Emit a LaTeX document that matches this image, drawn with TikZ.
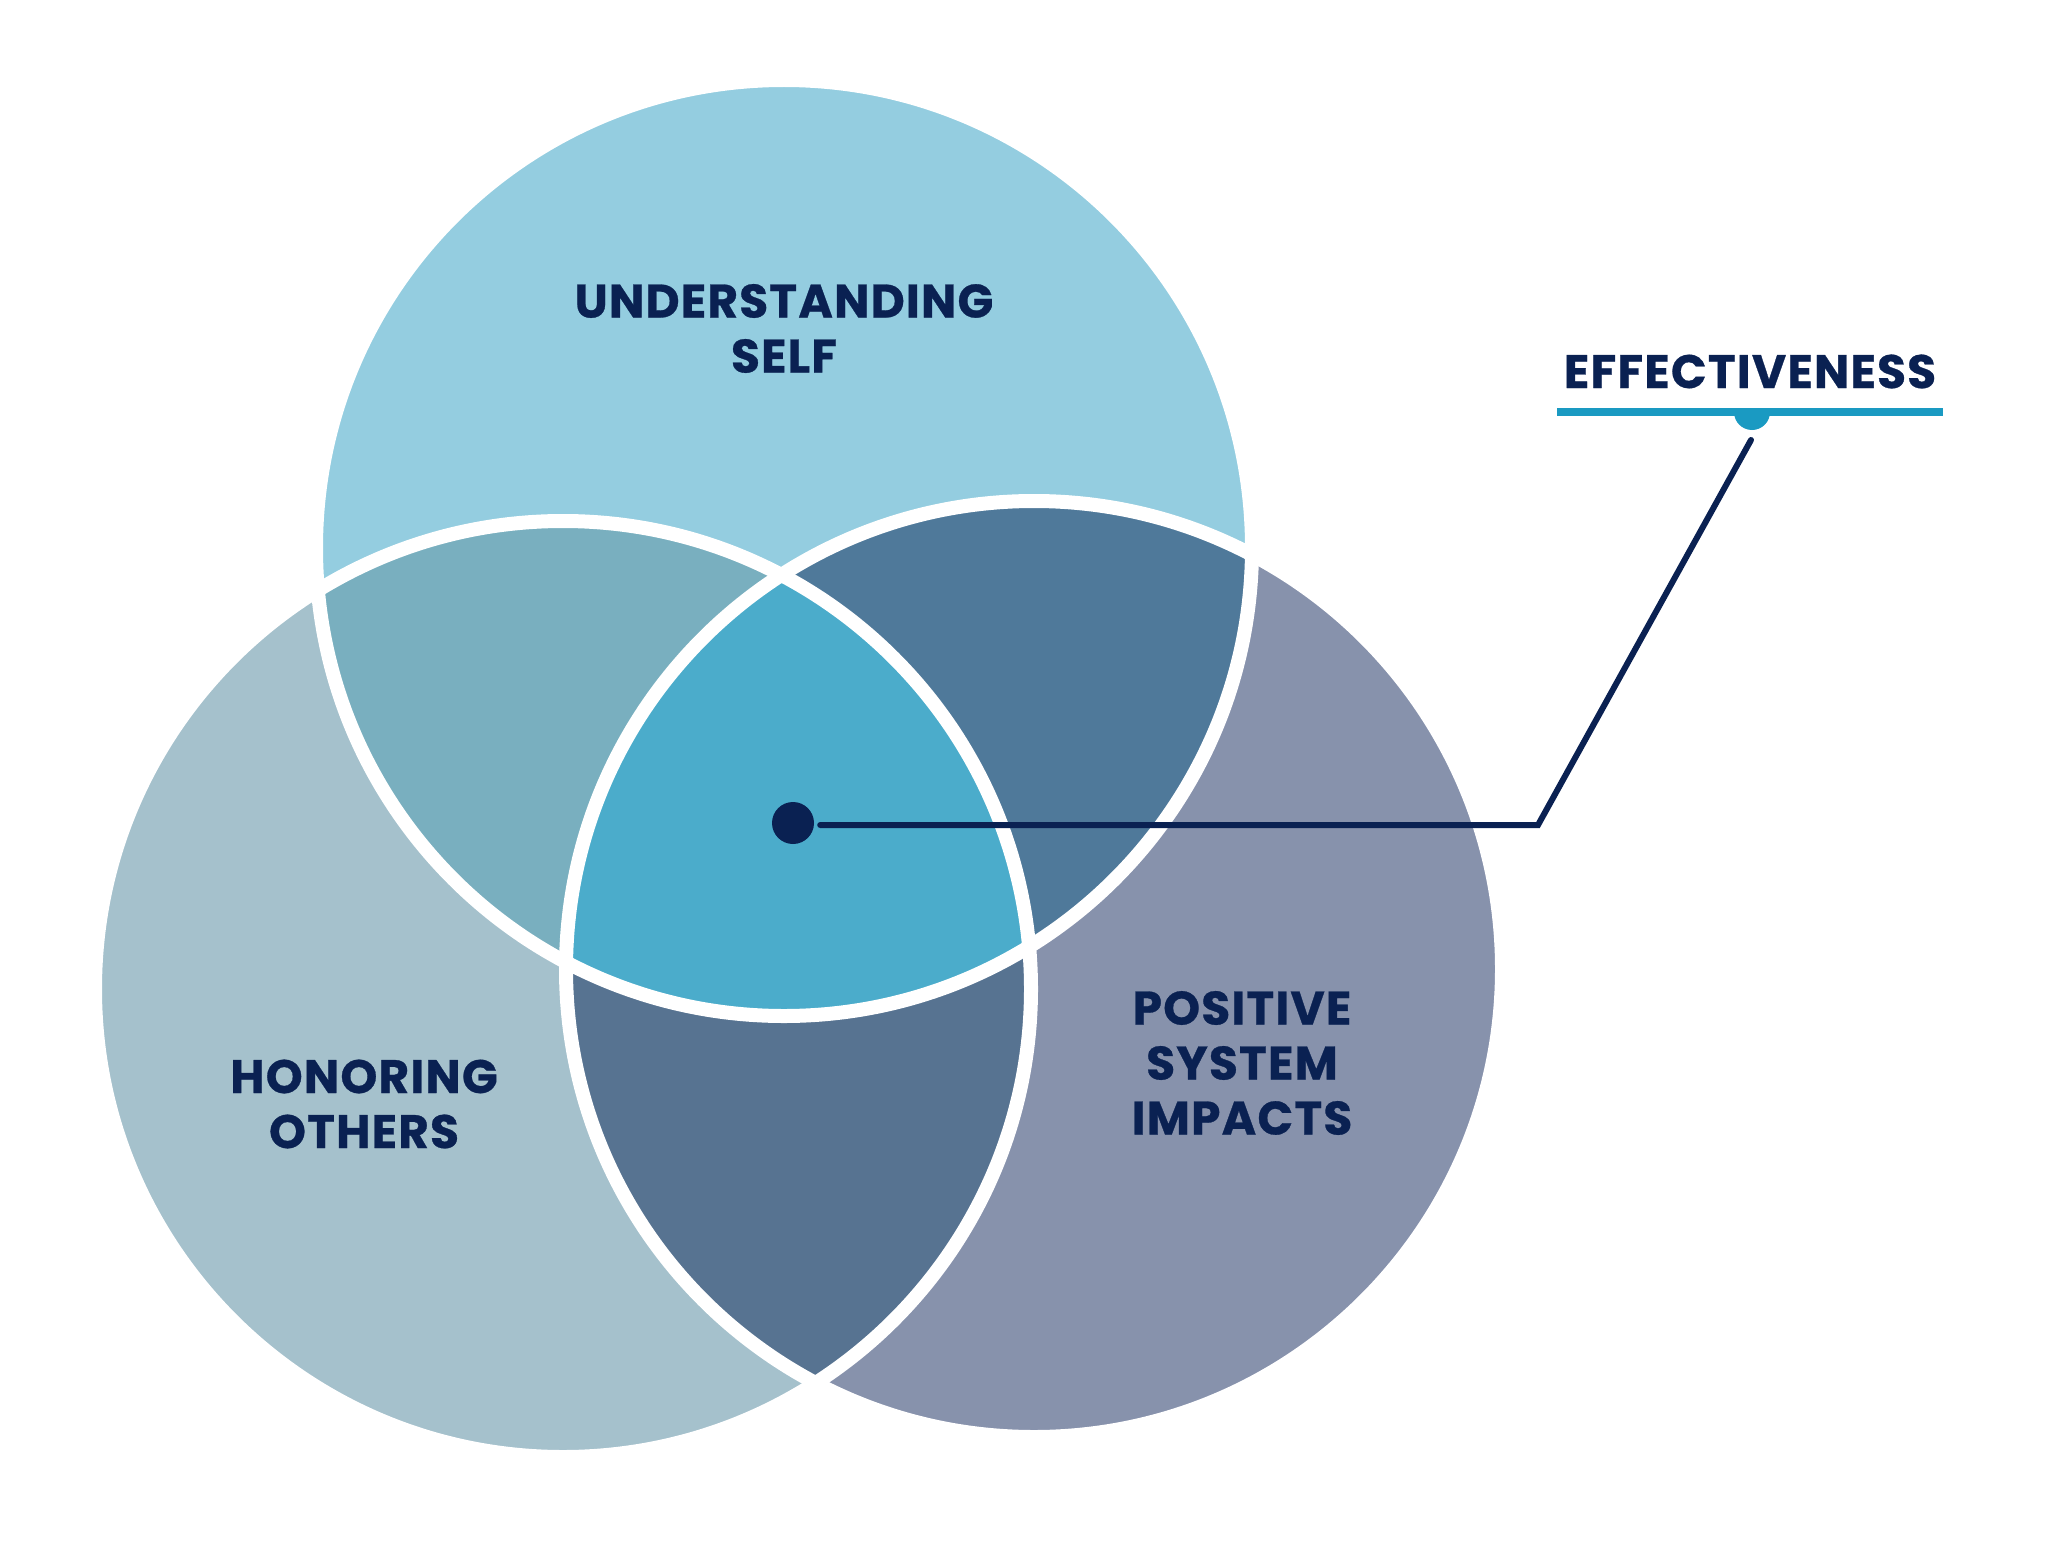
\documentclass[tikz,border=0pt]{standalone}
\usepackage{fontspec}
\newfontfamily\labfont{Poppins}[LetterSpace=2.5,BoldFeatures={FakeBold=0.6}]
\definecolor{cTop}{HTML}{94CDE0}
\definecolor{cLeft}{HTML}{A5C1CC}
\definecolor{cRight}{HTML}{8792AC}
\definecolor{cTL}{HTML}{79AFBF}
\definecolor{cTR}{HTML}{4F799A}
\definecolor{cLR}{HTML}{577391}
\definecolor{cAll}{HTML}{4BACCB}
\definecolor{navy}{HTML}{0A2152}
\definecolor{teal}{HTML}{1A9AC2}
\begin{document}
\begin{tikzpicture}[x=1pt,y=1pt,
  lab/.style={text=navy, font=\labfont\bfseries\fontsize{47}{55}\selectfont, align=center, inner sep=0pt, anchor=center},
  ring/.style={draw=white, line width=14pt},
  conn/.style={draw=navy, line width=6pt, line join=miter, line cap=round}]
\useasboundingbox (0,0) rectangle (2048,-1544);
\def\R{468}
\coordinate (T) at (784,-548);
\coordinate (L) at (563,-989);
\coordinate (Rc) at (1034,-969);
% single circles
\fill[cTop] (T) circle[radius=\R];
\fill[cLeft] (L) circle[radius=\R];
\fill[cRight] (Rc) circle[radius=\R];
% pairwise intersections
\begin{scope}\clip (T) circle[radius=\R]; \fill[cTL] (L) circle[radius=\R];\end{scope}
\begin{scope}\clip (T) circle[radius=\R]; \fill[cTR] (Rc) circle[radius=\R];\end{scope}
\begin{scope}\clip (L) circle[radius=\R]; \fill[cLR] (Rc) circle[radius=\R];\end{scope}
% triple intersection
\begin{scope}\clip (T) circle[radius=\R]; \clip (L) circle[radius=\R]; \fill[cAll] (Rc) circle[radius=\R];\end{scope}
% white outlines
\draw[ring] (T) circle[radius=\R];
\draw[ring] (L) circle[radius=\R];
\draw[ring] (Rc) circle[radius=\R];
% labels
\node[lab] (self) at (784,-328.5) {UNDERSTANDING\\SELF};
\node[lab] (others) at (364,-1104) {HONORING\\OTHERS};
\node[lab] (system) at (1242,-1063) {POSITIVE\\SYSTEM\\IMPACTS};
\node[lab] (eff) at (1750,-371.5) {EFFECTIVENESS};
% underline with half disc
\fill[teal] (1557,-408) rectangle (1943,-416);
\fill[teal] (1734,-412) arc[start angle=180, end angle=360, radius=18] -- cycle;
\coordinate (tip) at (1751,-440);
% dot and connector
\node[circle, fill=navy, minimum size=42pt, inner sep=0pt] (dot) at (793,-823) {};
\coordinate (corner) at (1538,-825);
\draw[conn] ([xshift=6pt]dot.east |- corner) -- (corner) -- (tip);
\end{tikzpicture}
\end{document}
